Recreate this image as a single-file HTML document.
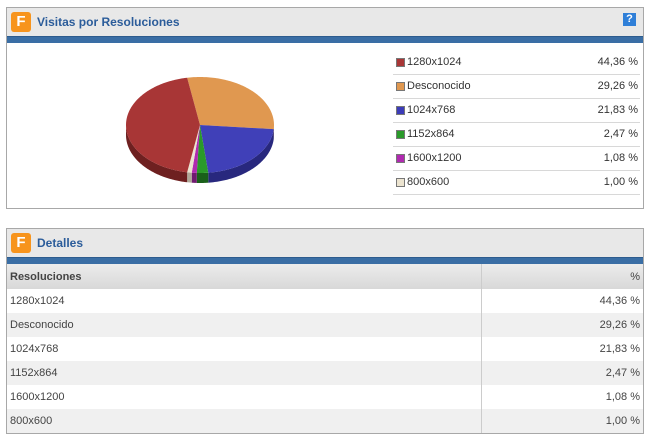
<!DOCTYPE html><html><head><style>
body{margin:0;width:650px;height:438px;background:#fff;font-family:"Liberation Sans",sans-serif;position:relative;overflow:hidden}
.panel{position:absolute;left:6px;width:636px;border:1px solid #a8a8a8;background:#fff}
.hd{height:28px;background:#e8e8e8;position:relative}
.hd .ic{position:absolute;left:4px;top:4px;width:20px;height:20px;background:#f7941d;border-radius:3px;color:#fff;font-size:15px;line-height:20px;text-align:center;font-weight:bold}
.hd .t{position:absolute;left:30px;top:7px;font-size:12px;font-weight:bold;color:#2b5c9a}
.bar{height:6px;background:#3a6ea5;border-top:1px solid #2d5c8e}
.lg{position:absolute;left:393px;width:247px;height:24px;border-bottom:1px solid #d8d8d8;font-size:11px;color:#333}
.lg i{position:absolute;left:3px;top:8px;width:7px;height:7px;border:1px solid #777}
.lg span{position:absolute;left:14px;top:6px}
.lg b{position:absolute;right:2px;top:6px;font-weight:normal}
.row{position:absolute;left:0;width:636px;height:24px;font-size:11px;color:#444;border-bottom:1px solid #ddd}
.row span{position:absolute;left:3px;top:6px}
.row b{position:absolute;right:3px;top:6px;font-weight:normal}
.row .d{position:absolute;left:474px;top:0;bottom:0;border-left:1px solid #ccc}
</style></head><body>
<div class="panel" style="top:7px;height:200px">
<div class="hd"><div class="ic">F</div><div class="t">Visitas por Resoluciones</div>
<div style="position:absolute;right:7px;top:5px;width:13px;height:13px;background:#2f7fd8;color:#fff;font-size:11px;font-weight:bold;text-align:center;line-height:13px">?</div></div>
<div class="bar"></div>
</div>
<svg id="pie" width="650" height="438" style="position:absolute;left:0;top:0"></svg>
<div class="lg" style="top:50px"><i style="background:#a83636"></i><span>1280x1024</span><b>44,36 %</b></div>
<div class="lg" style="top:74px"><i style="background:#e09850"></i><span>Desconocido</span><b>29,26 %</b></div>
<div class="lg" style="top:98px"><i style="background:#3c3cb8"></i><span>1024x768</span><b>21,83 %</b></div>
<div class="lg" style="top:122px"><i style="background:#2a9a2a"></i><span>1152x864</span><b>2,47 %</b></div>
<div class="lg" style="top:146px"><i style="background:#b02ab0"></i><span>1600x1200</span><b>1,08 %</b></div>
<div class="lg" style="top:170px"><i style="background:#ece4d0"></i><span>800x600</span><b>1,00 %</b></div>

<div class="panel" style="top:228px;height:204px">
<div class="hd"><div class="ic">F</div><div class="t">Detalles</div></div>
<div class="bar"></div>
<div style="position:relative">
<div class="row" style="top:0;height:25px;background:linear-gradient(#ececec,#d8d8d8);font-weight:bold;color:#444"><span style="top:7px">Resoluciones</span><b style="top:7px">%</b><div class="d"></div></div>
<div class="row" style="top:25px;background:#fff"><span>1280x1024</span><b>44,36 %</b><div class="d"></div></div>
<div class="row" style="top:49px;background:#f0f0f0"><span>Desconocido</span><b>29,26 %</b><div class="d"></div></div>
<div class="row" style="top:73px;background:#fff"><span>1024x768</span><b>21,83 %</b><div class="d"></div></div>
<div class="row" style="top:97px;background:#f0f0f0"><span>1152x864</span><b>2,47 %</b><div class="d"></div></div>
<div class="row" style="top:121px;background:#fff"><span>1600x1200</span><b>1,08 %</b><div class="d"></div></div>
<div class="row" style="top:145px;background:#f0f0f0;border:0"><span>800x600</span><b>1,00 %</b><div class="d"></div></div>
</div></div>
<script>
var cx=200,cy=125,rx=74,ry=48,dp=10,s="";
var sl=[[-10,95,"#e09850","#a86c30"],[95,173.6,"#4040b8","#28287e"],[173.6,182.5,"#2a9a2a","#1a601a"],[182.5,186.4,"#b02ab0","#701a70"],[186.4,190,"#ece4d0","#b0a898"],[190,350,"#a83636","#6e2020"]];
function P(t,d){t=t*Math.PI/180;return (cx+rx*Math.sin(t)).toFixed(2)+","+(cy-ry*Math.cos(t)+(d||0)).toFixed(2)}
sl.forEach(function(a){var b0=Math.max(a[0],90),b1=Math.min(a[1],270);if(b1>b0){var p="M"+P(b0);for(var t=b0;t<=b1;t+=1)p+=" L"+P(t);p+=" L"+P(b1)+" L"+P(b1,dp);for(var t=b1;t>=b0;t-=1)p+=" L"+P(t,dp);p+=" L"+P(b0,dp)+"Z";s+='<path d="'+p+'" fill="'+a[3]+'"/>';}});
sl.forEach(function(a){var p="M"+cx+","+cy;for(var t=a[0];t<a[1];t+=1)p+=" L"+P(t);p+=" L"+P(a[1])+"Z";s+='<path d="'+p+'" fill="'+a[2]+'"/>';});
document.getElementById("pie").innerHTML=s;
</script>
</body></html>
